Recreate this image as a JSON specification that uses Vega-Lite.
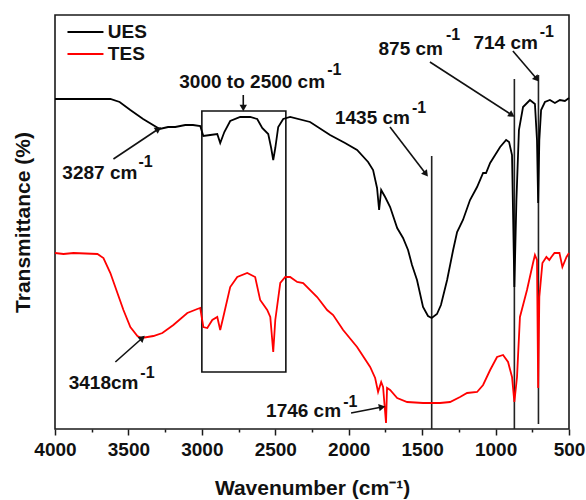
{
  "$schema": "https://vega.github.io/schema/vega-lite/v6.json",
  "width": 514,
  "height": 414,
  "autosize": {"type": "none"},
  "padding": {"left": 55, "top": 15, "right": 17, "bottom": 71},
  "config": {
    "font": "Liberation Sans",
    "view": {"stroke": "#1a1a1a", "strokeWidth": 1.6},
    "text": {"font": "Liberation Sans", "fontWeight": "bold", "color": "#111"}
  },
  "datasets": {
    "spec": [
      {"w":4000,"T":330,"s":"UES"},{"w":3623,"T":330,"s":"UES"},{"w":3560,"T":327,"s":"UES"},{"w":3487,"T":319,"s":"UES"},{"w":3400,"T":310,"s":"UES"},{"w":3287,"T":300,"s":"UES"},{"w":3230,"T":302,"s":"UES"},{"w":3181,"T":302,"s":"UES"},{"w":3113,"T":304,"s":"UES"},{"w":3060,"T":304,"s":"UES"},{"w":3011,"T":303,"s":"UES"},{"w":2990,"T":293,"s":"UES"},{"w":2943,"T":294,"s":"UES"},{"w":2895,"T":295,"s":"UES"},{"w":2875,"T":286,"s":"UES"},{"w":2847,"T":297,"s":"UES"},{"w":2807,"T":308,"s":"UES"},{"w":2739,"T":312,"s":"UES"},{"w":2671,"T":312,"s":"UES"},{"w":2623,"T":310,"s":"UES"},{"w":2589,"T":301,"s":"UES"},{"w":2548,"T":295,"s":"UES"},{"w":2528,"T":281,"s":"UES"},{"w":2514,"T":269,"s":"UES"},{"w":2500,"T":281,"s":"UES"},{"w":2480,"T":302,"s":"UES"},{"w":2446,"T":310,"s":"UES"},{"w":2399,"T":312,"s":"UES"},{"w":2263,"T":307,"s":"UES"},{"w":2127,"T":294,"s":"UES"},{"w":2025,"T":286,"s":"UES"},{"w":1943,"T":279,"s":"UES"},{"w":1868,"T":267,"s":"UES"},{"w":1834,"T":259,"s":"UES"},{"w":1807,"T":241,"s":"UES"},{"w":1793,"T":219,"s":"UES"},{"w":1779,"T":239,"s":"UES"},{"w":1752,"T":232,"s":"UES"},{"w":1718,"T":222,"s":"UES"},{"w":1670,"T":201,"s":"UES"},{"w":1630,"T":191,"s":"UES"},{"w":1596,"T":179,"s":"UES"},{"w":1569,"T":164,"s":"UES"},{"w":1535,"T":149,"s":"UES"},{"w":1494,"T":122,"s":"UES"},{"w":1460,"T":113,"s":"UES"},{"w":1435,"T":111,"s":"UES"},{"w":1399,"T":115,"s":"UES"},{"w":1372,"T":124,"s":"UES"},{"w":1330,"T":149,"s":"UES"},{"w":1289,"T":179,"s":"UES"},{"w":1262,"T":197,"s":"UES"},{"w":1222,"T":209,"s":"UES"},{"w":1174,"T":229,"s":"UES"},{"w":1126,"T":242,"s":"UES"},{"w":1085,"T":256,"s":"UES"},{"w":1065,"T":256,"s":"UES"},{"w":1037,"T":266,"s":"UES"},{"w":969,"T":282,"s":"UES"},{"w":928,"T":289,"s":"UES"},{"w":908,"T":287,"s":"UES"},{"w":888,"T":274,"s":"UES"},{"w":872,"T":142,"s":"UES"},{"w":858,"T":229,"s":"UES"},{"w":841,"T":299,"s":"UES"},{"w":813,"T":322,"s":"UES"},{"w":766,"T":329,"s":"UES"},{"w":732,"T":325,"s":"UES"},{"w":718,"T":289,"s":"UES"},{"w":710,"T":226,"s":"UES"},{"w":702,"T":289,"s":"UES"},{"w":690,"T":319,"s":"UES"},{"w":664,"T":327,"s":"UES"},{"w":630,"T":329,"s":"UES"},{"w":596,"T":326,"s":"UES"},{"w":562,"T":329,"s":"UES"},{"w":528,"T":328,"s":"UES"},{"w":500,"T":331,"s":"UES"},
      {"w":4000,"T":176,"s":"TES"},{"w":3942,"T":175,"s":"TES"},{"w":3874,"T":176,"s":"TES"},{"w":3711,"T":175,"s":"TES"},{"w":3670,"T":171,"s":"TES"},{"w":3623,"T":156,"s":"TES"},{"w":3575,"T":136,"s":"TES"},{"w":3534,"T":119,"s":"TES"},{"w":3487,"T":102,"s":"TES"},{"w":3439,"T":93,"s":"TES"},{"w":3410,"T":91,"s":"TES"},{"w":3330,"T":93,"s":"TES"},{"w":3269,"T":96,"s":"TES"},{"w":3194,"T":104,"s":"TES"},{"w":3099,"T":116,"s":"TES"},{"w":3031,"T":120,"s":"TES"},{"w":3011,"T":121,"s":"TES"},{"w":2990,"T":102,"s":"TES"},{"w":2963,"T":101,"s":"TES"},{"w":2929,"T":109,"s":"TES"},{"w":2895,"T":112,"s":"TES"},{"w":2875,"T":99,"s":"TES"},{"w":2854,"T":112,"s":"TES"},{"w":2807,"T":142,"s":"TES"},{"w":2759,"T":152,"s":"TES"},{"w":2691,"T":156,"s":"TES"},{"w":2637,"T":152,"s":"TES"},{"w":2603,"T":129,"s":"TES"},{"w":2555,"T":119,"s":"TES"},{"w":2534,"T":112,"s":"TES"},{"w":2514,"T":77,"s":"TES"},{"w":2500,"T":109,"s":"TES"},{"w":2466,"T":146,"s":"TES"},{"w":2432,"T":152,"s":"TES"},{"w":2399,"T":152,"s":"TES"},{"w":2351,"T":147,"s":"TES"},{"w":2310,"T":146,"s":"TES"},{"w":2215,"T":132,"s":"TES"},{"w":2147,"T":119,"s":"TES"},{"w":2106,"T":114,"s":"TES"},{"w":2038,"T":99,"s":"TES"},{"w":1943,"T":82,"s":"TES"},{"w":1854,"T":62,"s":"TES"},{"w":1820,"T":51,"s":"TES"},{"w":1800,"T":37,"s":"TES"},{"w":1779,"T":47,"s":"TES"},{"w":1766,"T":42,"s":"TES"},{"w":1746,"T":6,"s":"TES"},{"w":1739,"T":41,"s":"TES"},{"w":1718,"T":39,"s":"TES"},{"w":1670,"T":31,"s":"TES"},{"w":1602,"T":27,"s":"TES"},{"w":1494,"T":26,"s":"TES"},{"w":1378,"T":26,"s":"TES"},{"w":1310,"T":27,"s":"TES"},{"w":1242,"T":32,"s":"TES"},{"w":1194,"T":36,"s":"TES"},{"w":1126,"T":37,"s":"TES"},{"w":1085,"T":44,"s":"TES"},{"w":1037,"T":59,"s":"TES"},{"w":990,"T":72,"s":"TES"},{"w":949,"T":74,"s":"TES"},{"w":915,"T":67,"s":"TES"},{"w":888,"T":52,"s":"TES"},{"w":872,"T":27,"s":"TES"},{"w":854,"T":52,"s":"TES"},{"w":834,"T":112,"s":"TES"},{"w":786,"T":139,"s":"TES"},{"w":745,"T":166,"s":"TES"},{"w":732,"T":174,"s":"TES"},{"w":718,"T":169,"s":"TES"},{"w":710,"T":41,"s":"TES"},{"w":702,"T":132,"s":"TES"},{"w":681,"T":166,"s":"TES"},{"w":654,"T":172,"s":"TES"},{"w":634,"T":169,"s":"TES"},{"w":620,"T":172,"s":"TES"},{"w":599,"T":176,"s":"TES"},{"w":565,"T":176,"s":"TES"},{"w":545,"T":162,"s":"TES"},{"w":517,"T":172,"s":"TES"},{"w":500,"T":176,"s":"TES"}
    ],
    "legendrows": [
      {"s": "UES", "w": 3915, "w2": 3670, "wt": 3640, "T": 397},
      {"s": "TES", "w": 3915, "w2": 3670, "wt": 3640, "T": 375}
    ],
    "box": [{"w": 3000, "w2": 2428, "T": 57, "T2": 318}],
    "vlines": [
      {"w": 1435, "T": 0, "T2": 273},
      {"w": 872, "T": 0, "T2": 350},
      {"w": 708, "T": 5, "T2": 354}
    ],
    "arrows": [
      {"w": 3296, "T": 300, "w2": 3602, "T2": 270},
      {"w": 2718, "T": 321, "w2": 2718, "T2": 334},
      {"w": 1474, "T": 255, "w2": 1719, "T2": 302},
      {"w": 889, "T": 314, "w2": 1447, "T2": 367},
      {"w": 719, "T": 350, "w2": 882, "T2": 378},
      {"w": 3405, "T": 91, "w2": 3589, "T2": 67},
      {"w": 1773, "T": 22, "w2": 1984, "T2": 16}
    ],
    "labels": [
      {"w": 3439, "T": 256, "text": "3287 cm"},
      {"w": 2161, "T": 347, "text": "3000 to 2500 cm"},
      {"w": 1583, "T": 311, "text": "1435 cm"},
      {"w": 1358, "T": 380, "text": "875 cm"},
      {"w": 712, "T": 386, "text": "714 cm"},
      {"w": 3432, "T": 46, "text": "3418cm"},
      {"w": 2052, "T": 18, "text": "1746 cm"}
    ],
    "sups": [
      {"w": 3432, "T": 267, "text": "-1"},
      {"w": 2147, "T": 359, "text": "-1"},
      {"w": 1569, "T": 321, "text": "-1"},
      {"w": 1338, "T": 394, "text": "-1"},
      {"w": 699, "T": 397, "text": "-1"},
      {"w": 3419, "T": 56, "text": "-1"},
      {"w": 2038, "T": 27, "text": "-1"}
    ]
  },
  "encoding": {
    "x": {
      "field": "w", "type": "quantitative",
      "scale": {"domain": [500, 4000], "reverse": true, "nice": false, "zero": false},
      "axis": {
        "title": "Wavenumber (cm⁻¹)",
        "values": [4000, 3750, 3500, 3250, 3000, 2750, 2500, 2250, 2000, 1750, 1500, 1250, 1000, 750, 500],
        "format": "d",
        "labelExpr": "datum.value % 500 === 0 ? datum.label : ''",
        "labelOverlap": false,
        "labelFlush": false,
        "tickSize": {"condition": {"test": "datum.value % 500 === 0", "value": 6}, "value": 3},
        "tickColor": "#1a1a1a",
        "tickWidth": 1.5,
        "domain": false,
        "grid": false,
        "labelFont": "Liberation Sans",
        "labelFontSize": 19,
        "labelFontWeight": "bold",
        "labelColor": "#111",
        "labelPadding": 5,
        "titleFont": "Liberation Sans",
        "titleFontSize": 21,
        "titleFontWeight": "bold",
        "titleColor": "#111",
        "titlePadding": 18
      }
    },
    "y": {
      "field": "T", "type": "quantitative",
      "scale": {"domain": [0, 414], "nice": false, "zero": false},
      "axis": {
        "title": "Transmittance (%)",
        "ticks": false, "labels": false, "domain": false, "grid": false,
        "titleFont": "Liberation Sans",
        "titleFontSize": 21,
        "titleFontWeight": "bold",
        "titleColor": "#111",
        "titlePadding": 22
      }
    }
  },
  "layer": [
    {
      "data": {"name": "box"},
      "mark": {"type": "rect", "filled": false, "stroke": "#111", "strokeWidth": 1.6},
      "encoding": {"x2": {"field": "w2"}, "y2": {"field": "T2"}}
    },
    {
      "data": {"name": "vlines"},
      "mark": {"type": "rule", "color": "#222", "strokeWidth": 1.6},
      "encoding": {"y2": {"field": "T2"}}
    },
    {
      "data": {"name": "spec"},
      "mark": {"type": "line", "strokeWidth": 1.8},
      "encoding": {
        "color": {
          "field": "s", "type": "nominal",
          "scale": {"domain": ["UES", "TES"], "range": ["#000000", "#ff0000"]},
          "legend": null
        }
      }
    },
    {
      "data": {"name": "legendrows"},
      "mark": {"type": "rule", "strokeWidth": 2},
      "encoding": {
        "x2": {"field": "w2"},
        "color": {"field": "s", "type": "nominal", "legend": null}
      }
    },
    {
      "data": {"name": "legendrows"},
      "mark": {"type": "text", "align": "left", "baseline": "middle", "fontSize": 19},
      "encoding": {
        "x": {"field": "wt", "type": "quantitative"},
        "text": {"field": "s"}
      }
    },
    {
      "data": {"name": "arrows"},
      "mark": {"type": "rule", "color": "#111", "strokeWidth": 1.6},
      "encoding": {"x2": {"field": "w2"}, "y2": {"field": "T2"}}
    },
    {
      "data": {"name": "arrows"},
      "transform": [{"calculate": "atan2(-(datum.w - datum.w2) / 6.8, datum.T - datum.T2) * 180 / PI", "as": "ang"}],
      "mark": {"type": "point", "shape": "triangle-up", "filled": true, "color": "#111", "size": 55, "opacity": 1},
      "encoding": {"angle": {"field": "ang", "type": "quantitative", "scale": null}}
    },
    {
      "data": {"name": "labels"},
      "mark": {"type": "text", "align": "right", "baseline": "middle", "fontSize": 19},
      "encoding": {"text": {"field": "text"}}
    },
    {
      "data": {"name": "sups"},
      "mark": {"type": "text", "align": "left", "baseline": "middle", "fontSize": 16},
      "encoding": {"text": {"field": "text"}}
    }
  ]
}
